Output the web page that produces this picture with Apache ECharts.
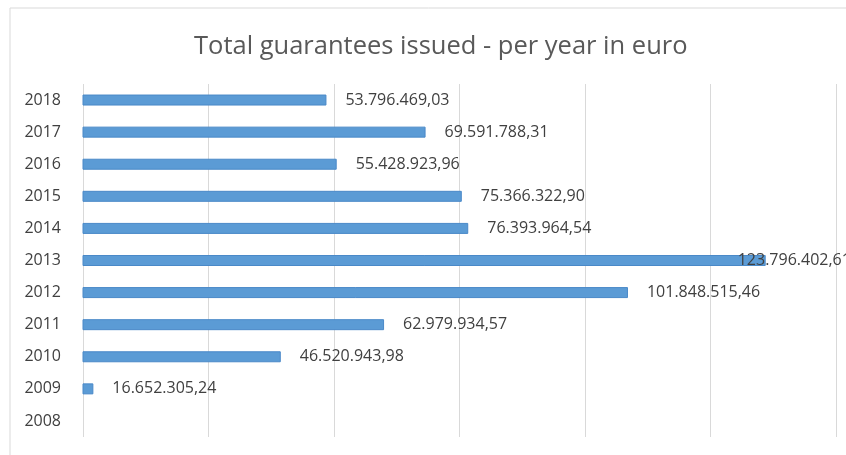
<!DOCTYPE html>
<html><head><meta charset="utf-8">
<script src="https://cdn.jsdelivr.net/npm/echarts@6/dist/echarts.min.js"></script>
<style>html,body{margin:0;padding:0;background:#fff}#c{width:846px;height:455px}</style>
</head><body><div id="c"></div>
<script>
const years = ['2008','2009','2010','2011','2012','2013','2014','2015','2016','2017','2018'];
const totals = [null, 16652305.24, 46520943.98, 62979934.57, 101848515.46, 123796402.61, 76393964.54, 75366322.90, 55428923.96, 69591788.31, 53796469.03];
const titleText = 'Total guarantees issued - per year in euro';

function fmt(v){
  const parts = v.toFixed(2).split('.');
  return parts[0].replace(/\B(?=(\d{3})+(?!\d))/g, '.') + ',' + parts[1];
}
const maxIdx = totals.indexOf(Math.max(...totals.filter(v=>v!==null)));
const data = totals.map((v,i)=> i===maxIdx ? {value:v, label:{distance:-28}} : v);

const chart = echarts.init(document.getElementById('c'), null, {renderer:'canvas'});
chart.setOption({
  animation:false,
  backgroundColor:'#fff',
  graphic:[{type:'rect', shape:{x:10,y:8,width:850,height:460}, style:{fill:'none', stroke:'#d9d9d9', lineWidth:1}, silent:true}],
  title:{text:titleText, left:189, top:29, textStyle:{fontFamily:'Open Sans', fontSize:25.5, fontWeight:'normal', color:'#595959'}},
  grid:{left:83, right:10, top:84, bottom:18, containLabel:false},
  xAxis:{type:'value', min:15000000, max:135000000, interval:20000000,
    axisLabel:{show:false}, axisLine:{show:false}, axisTick:{show:false},
    splitLine:{lineStyle:{color:'#d9d9d9', width:1}}},
  yAxis:{type:'category', data:years, axisLine:{show:false}, axisTick:{show:false},
    axisLabel:{fontFamily:'Open Sans', fontSize:16, color:'#404040', margin:22}},
  series:[{type:'bar', data:data, barWidth:11,
    itemStyle:{color:'#5b9bd5', borderColor:'#4a89c8', borderWidth:1},
    label:{show:true, position:'right', distance:19, fontFamily:'Open Sans', fontSize:16, color:'#404040',
      formatter:p=>p.value==null?'':fmt(p.value)}}]
});
</script></body></html>
